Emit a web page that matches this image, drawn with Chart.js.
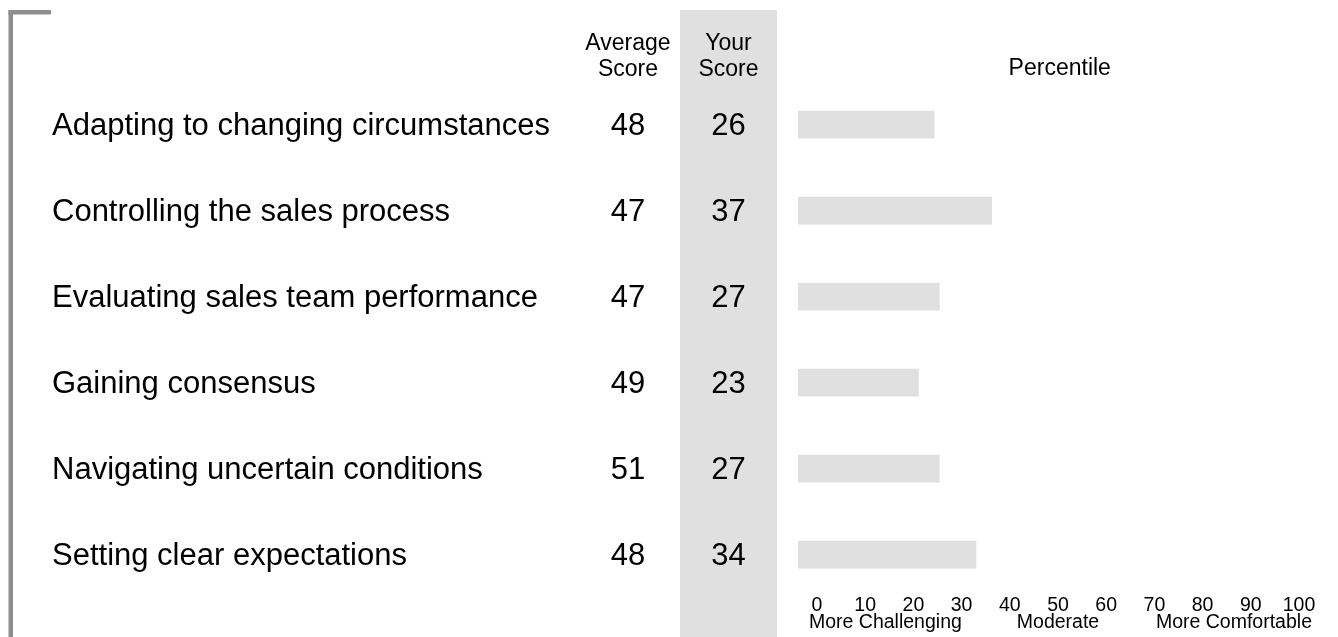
<!DOCTYPE html>
<html>
<head>
<meta charset="utf-8">
<title>Percentile chart</title>
<script src="https://cdn.jsdelivr.net/npm/chart.js@4.4.1/dist/chart.umd.min.js"></script>
<style>
    html, body { margin: 0; padding: 0; background: #ffffff; }
    #wrap { width: 1338px; height: 637px; }
</style>
</head>
<body>
<div id="wrap"><canvas id="percentile_chart" width="1338" height="637"></canvas></div>
<script>
// Chart data
const categories = [
    'Adapting to changing circumstances',
    'Controlling the sales process',
    'Evaluating sales team performance',
    'Gaining consensus',
    'Navigating uncertain conditions',
    'Setting clear expectations',
];
const averageScores = [48, 47, 47, 49, 51, 48];
const yourScores = [26, 37, 27, 23, 27, 34];
const percentiles = [26, 37, 27, 23, 27, 34];
const tickValues = [0, 10, 20, 30, 40, 50, 60, 70, 80, 90, 100];
const bandLabels = ['More Challenging', 'Moderate', 'More Comfortable'];

const FONT = '"Liberation Sans", Arial, Helvetica, sans-serif';
const GREY = '#e0e0e0';

/**
 * Draws the background pieces: bracket and "Your Score" column
 */
const backgroundPlugin = {
    id: 'background',
    beforeDatasetsDraw(chart) {
        const ctx = chart.ctx;
        ctx.save();
        // your score column
        ctx.fillStyle = GREY;
        ctx.fillRect(680, 10, 97, chart.height - 10);
        // bracket on the left
        ctx.fillStyle = '#8e8e8e';
        ctx.fillRect(8.5, 10, 4.5, chart.height - 10);
        ctx.fillRect(8.5, 10, 42.5, 4.5);
        ctx.restore();
    },
};

/**
 * Draws headers, row labels, score columns and the percentile ticks
 */
const textPlugin = {
    id: 'texts',
    afterDraw(chart) {
        const ctx = chart.ctx;
        const y = chart.scales.y;
        const pct = chart.scales.pct;
        const area = chart.chartArea;

        ctx.save();
        ctx.fillStyle = '#000000';
        ctx.textBaseline = 'alphabetic';

        // headers
        ctx.font = '23px ' + FONT;
        ctx.textAlign = 'center';
        ctx.fillText('Average', 628, 50);
        ctx.fillText('Score', 628, 76);
        ctx.fillText('Your', 728.5, 50);
        ctx.fillText('Score', 728.5, 76);
        ctx.fillText('Percentile', (area.left + area.right) / 2, 75);

        // rows
        ctx.font = '31px ' + FONT;
        categories.forEach((label, i) => {
            const py = y.getPixelForValue(i) + 10.5;
            ctx.textAlign = 'left';
            ctx.fillText(label, 52, py);
            ctx.textAlign = 'center';
            ctx.fillText(String(averageScores[i]), 628, py);
            ctx.fillText(String(yourScores[i]), 728.5, py);
        });

        // percentile tick labels
        ctx.font = '19.5px ' + FONT;
        ctx.textAlign = 'center';
        tickValues.forEach(v => {
            ctx.fillText(String(v), pct.getPixelForValue(v), 611);
        });

        const first = pct.getPixelForValue(tickValues[0]);
        const last = pct.getPixelForValue(tickValues[tickValues.length - 1]);
        ctx.textAlign = 'left';
        ctx.fillText(bandLabels[0], first - 8, 628);
        ctx.textAlign = 'center';
        ctx.fillText(bandLabels[1], pct.getPixelForValue(50), 628);
        ctx.textAlign = 'right';
        ctx.fillText(bandLabels[2], last + 13, 628);
        ctx.restore();
    },
};

const ctx = document.getElementById('percentile_chart');
new Chart(ctx, {
    type: 'bar',
    data: {
        labels: categories,
        datasets: [{
            label: 'Percentile',
            data: percentiles,
            backgroundColor: GREY,
            borderWidth: 0,
            barThickness: 27,
        }],
    },
    options: {
        indexAxis: 'y',
        responsive: false,
        animation: false,
        layout: {
            padding: { left: 798, right: 16.5, top: 81.6, bottom: 39.4 },
        },
        plugins: {
            legend: { display: false },
            tooltip: { enabled: false },
        },
        scales: {
            x: { min: 0, max: 100, display: false },
            pct: { type: 'linear', axis: 'x', position: 'bottom', min: -3.94, max: 104.67, display: false },
            y: { display: false },
        },
    },
    plugins: [backgroundPlugin, textPlugin],
});
</script>
</body>
</html>
